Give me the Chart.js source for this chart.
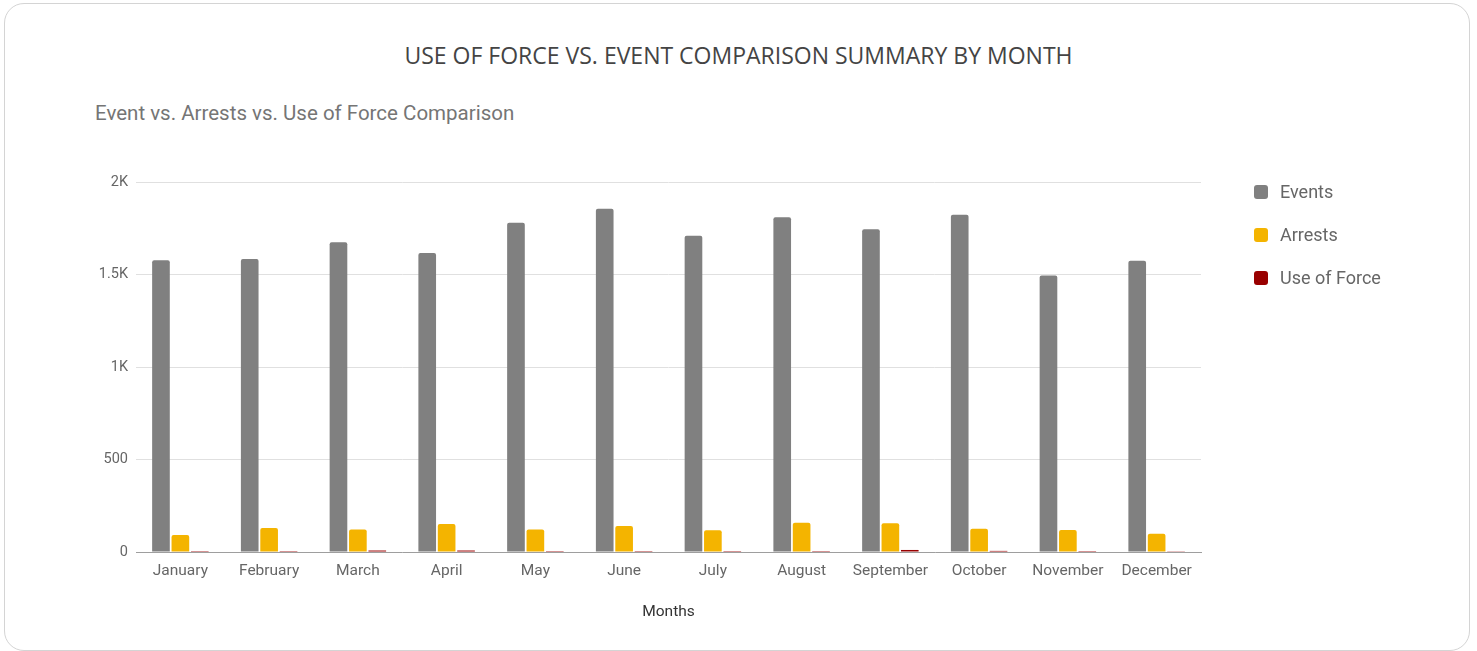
<!DOCTYPE html>
<html>
<head>
<meta charset="utf-8">
<title>Use of Force vs. Event Comparison</title>
<script src="https://cdn.jsdelivr.net/npm/chart.js@4.4.1/dist/chart.umd.min.js"></script>
<style>
  html, body { margin: 0; padding: 0; background: #fff; }
  body { width: 1477px; height: 651px; position: relative; overflow: hidden; }
  .card {
    position: absolute; left: 4px; top: 3px;
    width: 1464px; height: 646px;
    border: 1px solid #d4d4d4; border-radius: 20px;
  }
  .title {
    position: absolute; left: 0; width: 1477px; top: 40px;
    text-align: center; font-family: "Open Sans", sans-serif;
    font-size: 23px; color: #444; line-height: 30px;
  }
  .subtitle {
    position: absolute; left: 95px; top: 99px;
    font-family: Roboto, sans-serif; font-size: 20.5px; color: #757575; line-height: 28px;
  }
  #chartCanvas { position: absolute; left: 0; top: 0; }
  #legend { position: absolute; left: 1254px; top: 180px; font-family: Roboto, sans-serif; }
  .item { height: 43px; display: flex; align-items: flex-start; }
  .box { width: 14px; height: 14px; border-radius: 3px; margin-top: 5px; margin-right: 12px; }
  .label { font-size: 18px; color: #666; line-height: 24px; }
</style>
</head>
<body>
<div class="card"></div>
<div class="title">USE OF FORCE VS. EVENT COMPARISON SUMMARY BY MONTH</div>
<div class="subtitle">Event vs. Arrests vs. Use of Force Comparison</div>
<canvas id="chartCanvas" width="1477" height="651"></canvas>
<div id="legend"></div>
<script>
// Data
const months = ['January', 'February', 'March', 'April', 'May', 'June', 'July', 'August', 'September', 'October', 'November', 'December'];
const events = [1577, 1584, 1674, 1616, 1780, 1856, 1710, 1809, 1744, 1823, 1494, 1575];
const arrests = [92, 130, 122, 151, 122, 141, 117, 158, 155, 126, 119, 99];
const useOfForce = [5, 5, 8, 8, 5, 5, 5, 5, 11, 6, 5, 4];

const seriesNames = ['Events', 'Arrests', 'Use of Force'];
const seriesColors = ['#808080', '#f4b400', '#990000'];
const yTicks = {0: '0', 500: '500', 1000: '1K', 1500: '1.5K', 2000: '2K'};

function makeDataset(i, values, radius) {
  return {
    label: seriesNames[i],
    data: values,
    backgroundColor: seriesColors[i],
    borderRadius: radius,
    categoryPercentage: 0.656,
    barPercentage: 0.91
  };
}

const canvas = document.getElementById('chartCanvas');
const chart = new Chart(canvas.getContext('2d'), {
  type: 'bar',
  data: {
    labels: months,
    datasets: [
      makeDataset(0, events, 2),
      makeDataset(1, arrests, 2),
      makeDataset(2, useOfForce, 0)
    ]
  },
  options: {
    responsive: false,
    animation: false,
    layout: { padding: { left: 0, right: 276, top: 182, bottom: 26 } },
    plugins: {
      legend: { display: false },
      tooltip: { enabled: false }
    },
    scales: {
      x: {
        grid: { display: false, drawTicks: false },
        border: { color: '#9e9e9e', width: 1 },
        ticks: {
          color: '#666',
          padding: 10,
          maxRotation: 0,
          font: { family: 'Roboto', size: 15.5 }
        },
        title: {
          display: true,
          text: 'Months',
          color: '#333',
          padding: { top: 0, bottom: 4 },
          font: { family: 'Roboto', size: 15.5 }
        },
        afterFit: s => { s.height = 73; }
      },
      y: {
        min: 0,
        max: 2000,
        grid: { color: '#e0e0e0', drawTicks: false },
        border: { display: false },
        ticks: {
          stepSize: 500,
          color: '#666',
          padding: 8,
          font: { family: 'Roboto', size: 14.5 },
          callback: v => yTicks[v]
        },
        afterFit: s => { s.width = 136; }
      }
    }
  }
});

// HTML legend built from the chart's datasets
const legend = document.getElementById('legend');
chart.data.datasets.forEach(ds => {
  const item = document.createElement('div');
  item.className = 'item';
  item.innerHTML = '<div class="box" style="background:' + ds.backgroundColor + '"></div><div class="label">' + ds.label + '</div>';
  legend.appendChild(item);
});
</script>
</body>
</html>
